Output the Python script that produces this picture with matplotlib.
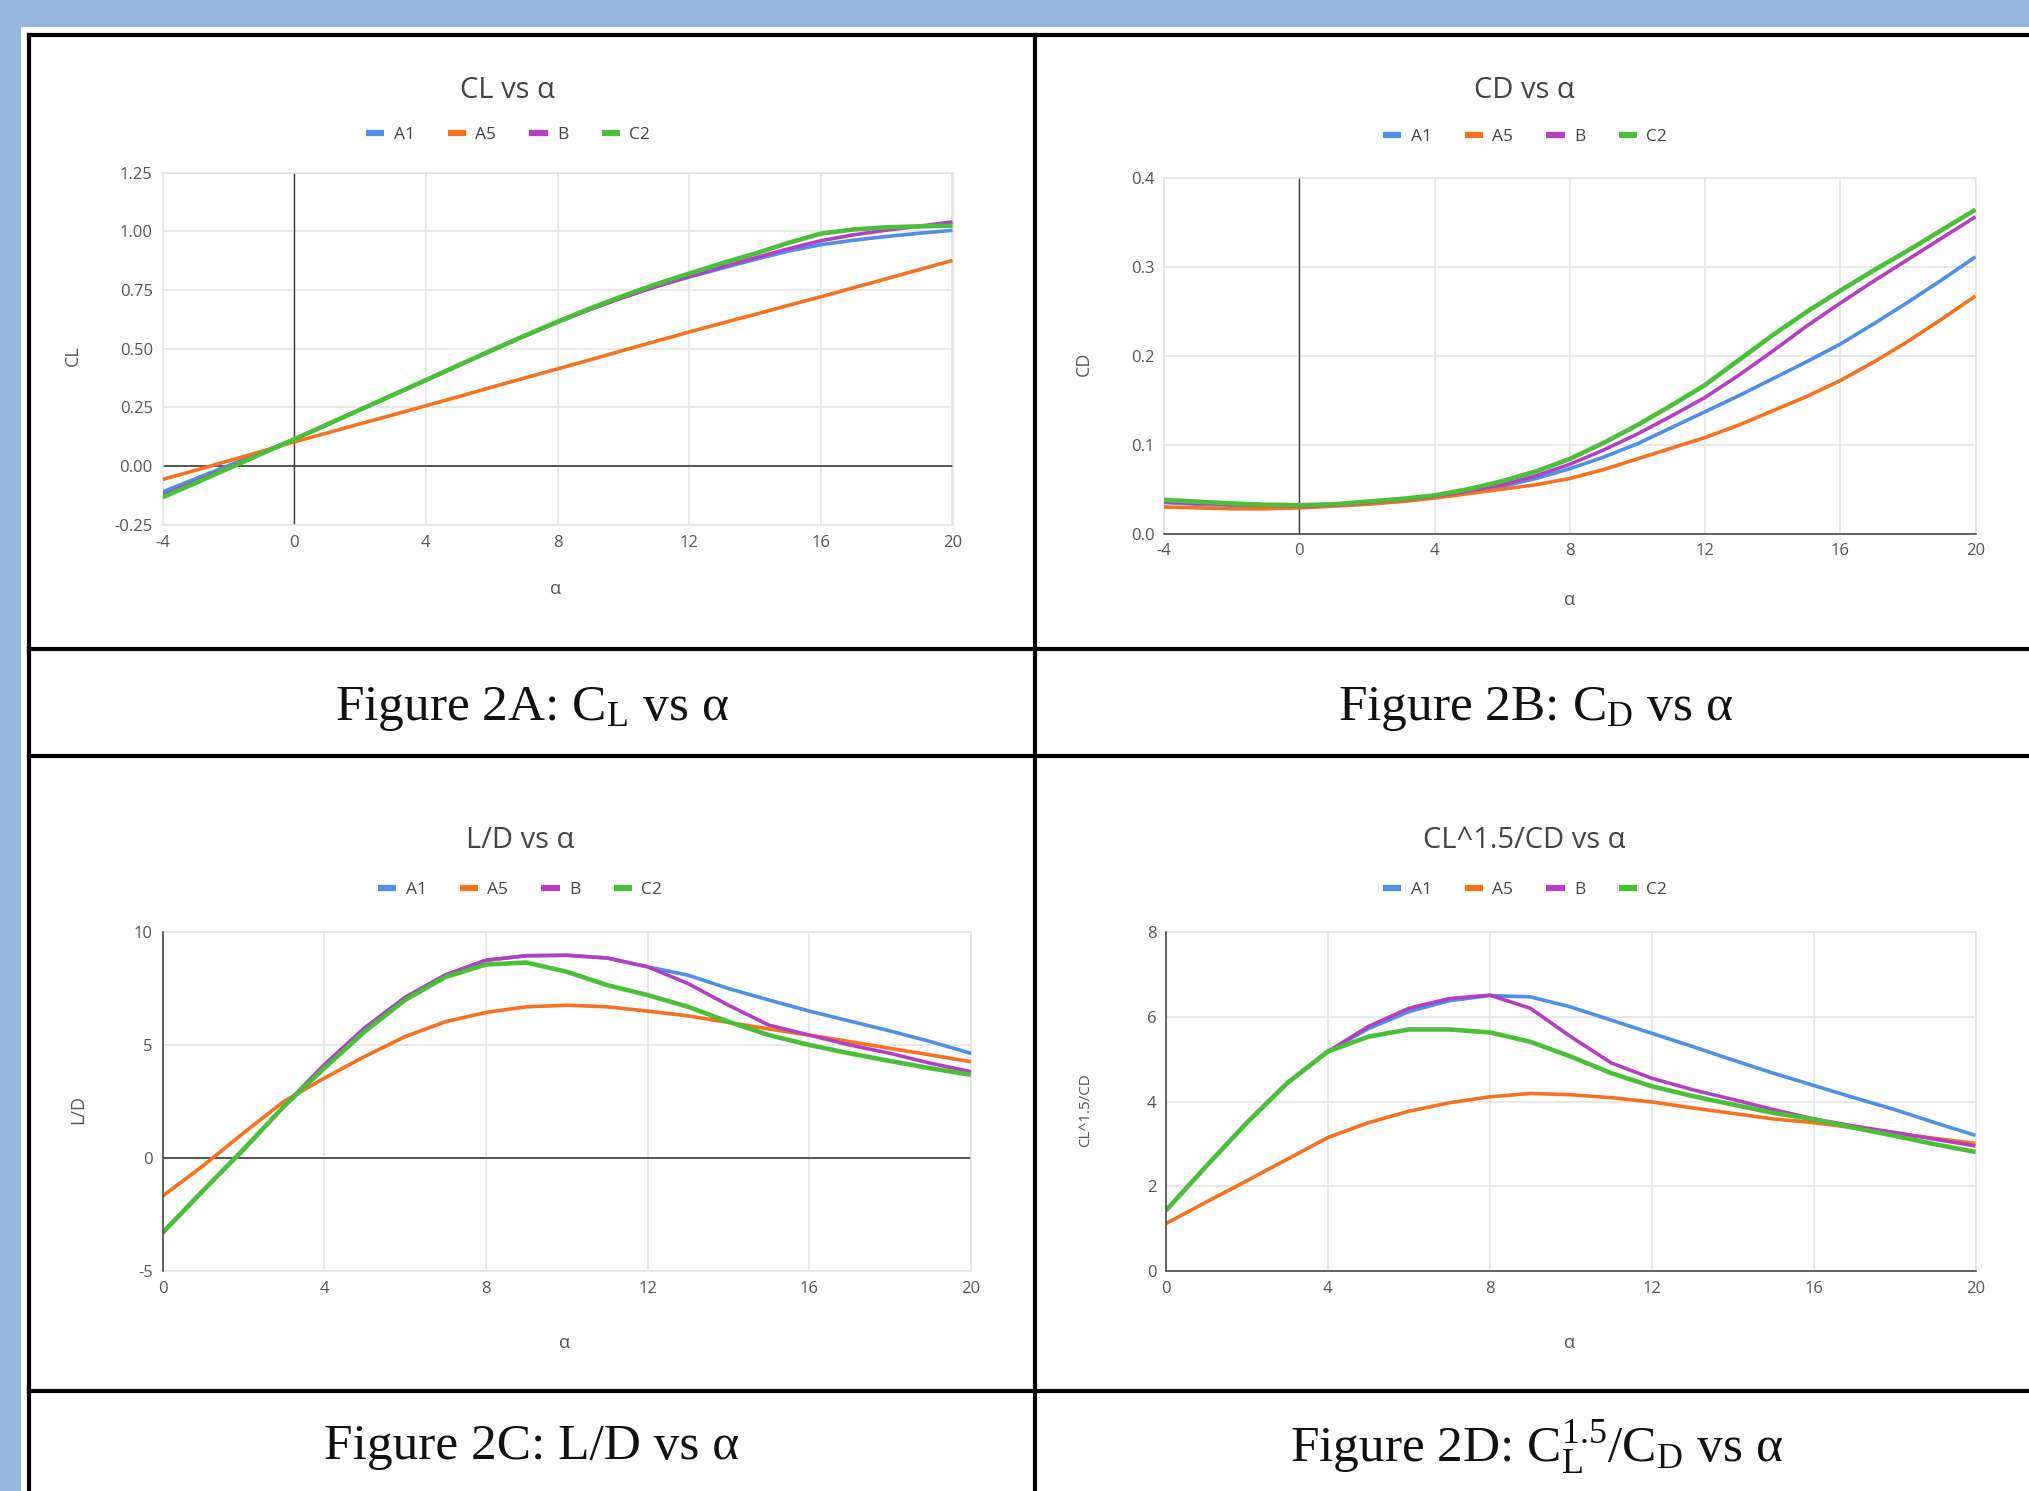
import matplotlib
matplotlib.use("Agg")
import matplotlib.pyplot as plt
from matplotlib.lines import Line2D
from matplotlib.patches import Rectangle

plt.rcParams['font.family'] = ['Open Sans', 'DejaVu Sans']
plt.rcParams['axes.unicode_minus'] = False
plt.rcParams['mathtext.fontset'] = 'custom'
plt.rcParams['mathtext.rm'] = 'Liberation Serif'
plt.rcParams['mathtext.it'] = 'Liberation Serif:italic'

# ---------------- data ----------------
series_names = ["A1", "A5", "B", "C2"]
series_colors = ["#4f8fe6", "#f57221", "#b43fc0", "#4cbf3a"]

alpha_ab = list(range(-4, 21))
alpha_cd = list(range(0, 21))

cl_A1 = [-0.110, -0.054, 0.002, 0.058, 0.114, 0.177, 0.240, 0.303, 0.366, 0.429, 0.492, 0.554, 0.613,
         0.668, 0.720, 0.765, 0.805, 0.843, 0.880, 0.915, 0.943, 0.962, 0.978, 0.992, 1.004]
cl_A5 = [-0.057, -0.018, 0.022, 0.062, 0.103, 0.141, 0.180, 0.218, 0.257, 0.296, 0.336, 0.375, 0.414,
         0.453, 0.493, 0.532, 0.571, 0.609, 0.646, 0.684, 0.721, 0.760, 0.798, 0.837, 0.876]
cl_B = [-0.125, -0.066, -0.006, 0.054, 0.114, 0.177, 0.240, 0.303, 0.366, 0.429, 0.492, 0.554, 0.613,
        0.668, 0.718, 0.765, 0.808, 0.848, 0.887, 0.925, 0.960, 0.985, 1.005, 1.022, 1.040]
cl_C2 = [-0.133, -0.072, -0.010, 0.052, 0.114, 0.177, 0.240, 0.303, 0.366, 0.430, 0.493, 0.555, 0.615,
         0.672, 0.725, 0.775, 0.820, 0.864, 0.905, 0.950, 0.990, 1.008, 1.017, 1.021, 1.024]

cd_A1 = [0.035, 0.033, 0.032, 0.031, 0.031, 0.032, 0.034, 0.037, 0.041, 0.046, 0.053, 0.062, 0.073,
         0.086, 0.101, 0.119, 0.137, 0.155, 0.174, 0.193, 0.213, 0.236, 0.260, 0.285, 0.311]
cd_A5 = [0.030, 0.029, 0.028, 0.028, 0.029, 0.031, 0.033, 0.036, 0.040, 0.045, 0.050, 0.055, 0.062,
         0.072, 0.084, 0.096, 0.108, 0.122, 0.138, 0.154, 0.172, 0.193, 0.216, 0.241, 0.267]
cd_B = [0.036, 0.034, 0.033, 0.032, 0.031, 0.032, 0.035, 0.038, 0.042, 0.048, 0.055, 0.065, 0.078,
        0.094, 0.112, 0.132, 0.153, 0.178, 0.205, 0.233, 0.259, 0.284, 0.308, 0.332, 0.356]
cd_C2 = [0.038, 0.036, 0.034, 0.0325, 0.032, 0.033, 0.036, 0.039, 0.043, 0.050, 0.059, 0.070, 0.084,
         0.102, 0.122, 0.144, 0.167, 0.195, 0.223, 0.249, 0.273, 0.296, 0.318, 0.341, 0.364]

ld_A1 = [-3.31, -1.45, 0.37, 2.28, 4.12, 5.75, 7.10, 8.10, 8.75, 8.95, 8.97, 8.85, 8.46, 8.09, 7.50,
         6.99, 6.50, 6.06, 5.62, 5.15, 4.63]
ld_A5 = [-1.69, -0.35, 1.10, 2.50, 3.53, 4.49, 5.37, 6.03, 6.44, 6.69, 6.76, 6.69, 6.50, 6.29, 6.00,
         5.71, 5.44, 5.15, 4.85, 4.56, 4.26]
ld_B = [-3.31, -1.45, 0.37, 2.28, 4.12, 5.75, 7.10, 8.10, 8.75, 8.95, 8.97, 8.85, 8.46, 7.72, 6.76,
        5.88, 5.44, 5.00, 4.63, 4.19, 3.82]
ld_C2 = [-3.31, -1.45, 0.37, 2.28, 3.97, 5.59, 6.99, 8.01, 8.56, 8.65, 8.24, 7.65, 7.21, 6.69, 6.03,
         5.44, 5.00, 4.63, 4.29, 3.97, 3.68]

ce_A1 = [1.43, 2.48, 3.50, 4.44, 5.18, 5.72, 6.12, 6.38, 6.50, 6.47, 6.23, 5.92, 5.61, 5.30, 4.98,
         4.67, 4.38, 4.09, 3.81, 3.50, 3.20]
ce_A5 = [1.12, 1.63, 2.13, 2.64, 3.15, 3.50, 3.77, 3.97, 4.11, 4.19, 4.16, 4.09, 3.99, 3.85, 3.72,
         3.59, 3.50, 3.38, 3.25, 3.13, 3.01]
ce_B = [1.43, 2.48, 3.50, 4.44, 5.18, 5.77, 6.20, 6.43, 6.51, 6.20, 5.53, 4.91, 4.55, 4.28, 4.05,
        3.81, 3.59, 3.42, 3.27, 3.11, 2.95]
ce_C2 = [1.43, 2.48, 3.50, 4.44, 5.18, 5.53, 5.70, 5.70, 5.63, 5.41, 5.06, 4.67, 4.36, 4.13, 3.93,
         3.73, 3.58, 3.38, 3.19, 2.99, 2.81]

xticks_ab = [-4, 0, 4, 8, 12, 16, 20]
xticks_cd = [0, 4, 8, 12, 16, 20]
yticks_cl = [-0.25, 0.0, 0.25, 0.5, 0.75, 1.0, 1.25]
yticks_cd = [0.0, 0.1, 0.2, 0.3, 0.4]
yticks_ld = [-5, 0, 5, 10]
yticks_ce = [0, 2, 4, 6, 8]

# ---------------- layout ----------------
W, H = 2029, 1491
fig = plt.figure(figsize=(W / 100, H / 100), dpi=100)
fig.patch.set_facecolor("#95b8dd")


def box(l, t, r, b):
    return [l / W, 1 - b / H, (r - l) / W, (b - t) / H]


def ftext(x, y, s, **kw):
    fig.text(x / W, 1 - y / H, s, **kw)


bg = fig.add_axes([0, 0, 1, 1], zorder=0)
bg.set_xlim(0, W)
bg.set_ylim(H, 0)
bg.axis("off")
bg.add_patch(Rectangle((21, 27), W - 21, H - 27, facecolor="white", edgecolor="none"))
lw_tab = 3.0
for (x0, y0, x1, y1) in [(29, 34.5, W, 34.5), (29, 649, W, 649), (29, 756, W, 756), (29, 1391, W, 1391),
                         (29, 34.5, 29, H), (1035, 34.5, 1035, H)]:
    bg.plot([x0, x1], [y0, y1], color="black", lw=lw_tab, solid_capstyle="projecting")

GRID = "#e2e2e2"
ZERO = "#3a3a3a"
TXT = "#555555"


def make_chart(rect, xs, ys_list, xticks, yticks, yfmt, title, title_xy, legend_xy,
               xlabel_xy, ylabel, ylabel_xy, ylabel_size, zero_h=None, zero_v=None,
               dark_left=False, dark_bottom=False):
    ax = fig.add_axes(rect, zorder=2)
    ax.set_facecolor("white")
    ax.set_xlim(xticks[0], xticks[-1])
    ax.set_ylim(yticks[0], yticks[-1])
    ax.set_xticks(xticks)
    ax.set_yticks(yticks)
    ax.set_yticklabels([yfmt.format(v) for v in yticks])
    ax.tick_params(length=0, labelsize=12, colors=TXT, pad=7)
    ax.grid(True, color=GRID, lw=1.1)
    ax.set_axisbelow(True)
    for sp in ax.spines.values():
        sp.set_color(GRID)
        sp.set_linewidth(1.1)
    if dark_left:
        ax.spines["left"].set_color(ZERO)
        ax.spines["left"].set_zorder(5)
    if dark_bottom:
        ax.spines["bottom"].set_color(ZERO)
        ax.spines["bottom"].set_zorder(5)
    if zero_h is not None:
        ax.axhline(zero_h, color=ZERO, lw=1.2, zorder=1.5)
    if zero_v is not None:
        ax.axvline(zero_v, color=ZERO, lw=1.0, zorder=1.5)
    for ys, c, n in zip(ys_list, series_colors, series_names):
        ax.plot(xs, ys, color=c, lw=3.3 if n == "C2" else 2.6, zorder=3,
                solid_joinstyle="round", solid_capstyle="butt")
    ftext(title_xy[0], title_xy[1], title, ha="center", va="center", fontsize=21, color="#444444")
    handles = [Line2D([0], [0], color=c, lw=4.5, solid_capstyle="butt") for c in series_colors]
    fig.legend(handles, series_names, loc="center",
               bbox_to_anchor=(legend_xy[0] / W, 1 - legend_xy[1] / H), ncol=4, frameon=False,
               fontsize=12.5, handlelength=1.05, handletextpad=0.55, columnspacing=1.9,
               labelcolor="#444444")
    ftext(xlabel_xy[0], xlabel_xy[1], "α", ha="center", va="center", fontsize=13, color=TXT)
    ftext(ylabel_xy[0], ylabel_xy[1], ylabel, ha="center", va="center", fontsize=ylabel_size,
          color=TXT, rotation=90)
    return ax


make_chart(box(162.5, 172.6, 952.5, 524.8), alpha_ab, [cl_A1, cl_A5, cl_B, cl_C2],
           xticks_ab, yticks_cl, "{:.2f}", "CL vs α", (507, 90), (508, 135), (556, 589),
           "CL", (73, 356), 13, zero_h=0.0, zero_v=0)

make_chart(box(1164, 177.6, 1975.5, 533.7), alpha_ab, [cd_A1, cd_A5, cd_B, cd_C2],
           xticks_ab, yticks_cd, "{:.1f}", "CD vs α", (1524, 91), (1525, 137), (1570, 600),
           "CD", (1084, 364), 13, zero_v=0, dark_bottom=True)

make_chart(box(162.5, 932, 971, 1271), alpha_cd, [ld_A1, ld_A5, ld_B, ld_C2],
           xticks_cd, yticks_ld, "{:d}", "L/D vs α", (520, 840), (520, 890), (565, 1343),
           "L/D", (78, 1110), 13, zero_h=0, dark_left=True)

make_chart(box(1166, 932, 1975.5, 1271), alpha_cd, [ce_A1, ce_A5, ce_B, ce_C2],
           xticks_cd, yticks_ce, "{:d}", "CL^1.5/CD vs α", (1524, 840), (1525, 890), (1570, 1343),
           "CL^1.5/CD", (1086, 1110), 11, dark_left=True, dark_bottom=True)

cap_kw = dict(ha="center", va="center", fontsize=37, family="Liberation Serif", color="#111111")
ftext(532, 709, r"Figure 2A: C$_\mathrm{L}$ vs α", **cap_kw)
ftext(1536, 709, r"Figure 2B: C$_\mathrm{D}$ vs α", **cap_kw)
ftext(532, 1447, r"Figure 2C: L/D vs α", **cap_kw)
ftext(1536, 1447, r"Figure 2D: C$_\mathrm{L}^{\mathrm{1.5}}$/C$_\mathrm{D}$ vs α", **cap_kw)

fig.savefig("out.png", dpi=100, facecolor=fig.get_facecolor())
